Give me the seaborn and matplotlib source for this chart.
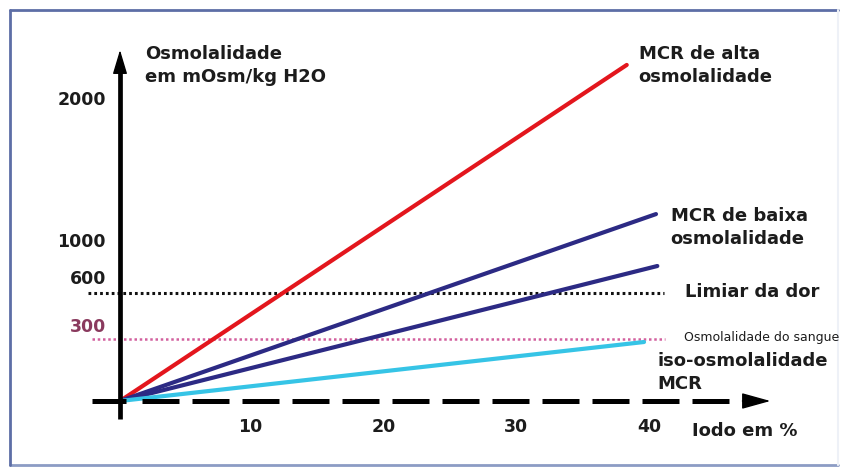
import numpy as np
import pandas as pd
import seaborn as sns
import matplotlib.pyplot as plt

# lines from the origin to their end point (iodo %, osmolalidade)
series = ['MCR de alta osmolalidade', 'MCR de baixa osmolalidade (1)',
          'MCR de baixa osmolalidade (2)', 'iso-osmolalidade MCR']
iodo_end = [38.1, 40.3, 40.4, 39.4]
osm_end = [2233, 1242, 897, 392]
colors = ['#e3161d', '#2c2a84', '#2c2a84', '#36c4e6']

# horizontal reference levels (schematic, as drawn)
limiar_y = 720
limiar_x = [-2.4, 40.9]
sangue_y = 410
sangue_x = [-2.1, 41.0]

xticks = [10, 20, 30, 40]
ytick_at = [2000, 1056, 811, 492]
ytick_text = ['2000', '1000', '600', '300']

sns.set_style('white')
plt.rcParams['font.family'] = ['DejaVu Sans']

rows = []
for name, xe, ye in zip(series, iodo_end, osm_end):
    rows.append({'iodo': 0, 'osm': 0, 'serie': name})
    rows.append({'iodo': xe, 'osm': ye, 'serie': name})
df = pd.DataFrame(rows)

fig = plt.figure(figsize=(8.48, 4.68), dpi=100)
ax = fig.add_axes([0, 0, 1, 1])
ax.set_xlim(-120 / 13.3, 728 / 13.3)
ax.set_ylim(-67 / 0.1505, 401 / 0.1505)
ax.axis('off')

# frame
fc = '#5d6ea6'
ax.plot([10 / 848, 838 / 848], [1 - 10 / 468] * 2, color=fc, lw=2, transform=ax.transAxes)
ax.plot([10 / 848, 838 / 848], [1 - 465 / 468] * 2, color='#8c9cc4', lw=2, transform=ax.transAxes)
ax.plot([10 / 848] * 2, [1 - 10 / 468, 1 - 465 / 468], color=fc, lw=2, transform=ax.transAxes)
ax.plot([838 / 848] * 2, [1 - 10 / 468, 1 - 465 / 468], color='#eef1f7', lw=1.5, transform=ax.transAxes)

# reference levels
ax.plot(limiar_x, [limiar_y] * 2, color='#111111', lw=2.2, ls=(0, (0.9, 1.0)))
ax.plot(sangue_x, [sangue_y] * 2, color='#d2609e', lw=1.8, ls=(0, (1, 1.1)))

sns.lineplot(data=df, x='iodo', y='osm', hue='serie', palette=colors,
             lw=3, legend=False, ax=ax, estimator=None, sort=False)

# y axis with arrow
ax.plot([0, 0], [-120, 2190], color='black', lw=3.4, solid_capstyle='butt')
ax.annotate('', xy=(0, 2332), xytext=(0, 2180),
            arrowprops=dict(arrowstyle='-|>,head_length=1.5,head_width=0.45',
                            color='black', lw=1, shrinkA=0, shrinkB=0))

# x axis: dashed with arrow
ax.plot([-2.1, 0.45], [0, 0], color='black', lw=3.6, solid_capstyle='butt')
ax.plot([1.65, 46.0], [0, 0], color='black', lw=3.6, ls=(0, (7.4, 2.6)),
        dash_capstyle='butt')
ax.annotate('', xy=(48.9, 0), xytext=(46.8, 0),
            arrowprops=dict(arrowstyle='-|>,head_length=1.8,head_width=0.5',
                            color='black', lw=1, shrinkA=0, shrinkB=0))

tc = '#1c1c1c'
for v in xticks:
    ax.text(v - 0.2, -173, str(v), ha='center', va='center', fontsize=12.5,
            fontweight='bold', color=tc)
for pos, lab in zip(ytick_at, ytick_text):
    ax.text(-1.05, pos, lab, ha='right', va='center', fontsize=12.5,
            fontweight='bold', color='#8a3a5e' if lab == '300' else tc)

kw = dict(fontsize=13, fontweight='bold', color=tc, linespacing=1.35)
ax.text(1.88, 2365, 'Osmolalidade\nem mOsm/kg H2O', ha='left', va='top', **kw)
ax.text(39.0, 2365, 'MCR de alta\nosmolalidade', ha='left', va='top', **kw)
ax.text(41.4, 1289, 'MCR de baixa\nosmolalidade', ha='left', va='top', **kw)
ax.text(42.5, 724, 'Limiar da dor', ha='left', va='center', **kw)
ax.text(40.4, 326, 'iso-osmolalidade\nMCR', ha='left', va='top', **kw)
ax.text(43.0, -199, 'Iodo em %', ha='left', va='center', **kw)
ax.text(42.4, 425, 'Osmolalidade do sangue', ha='left', va='center',
        fontsize=9, color=tc)

fig.savefig('out.png', dpi=100)
